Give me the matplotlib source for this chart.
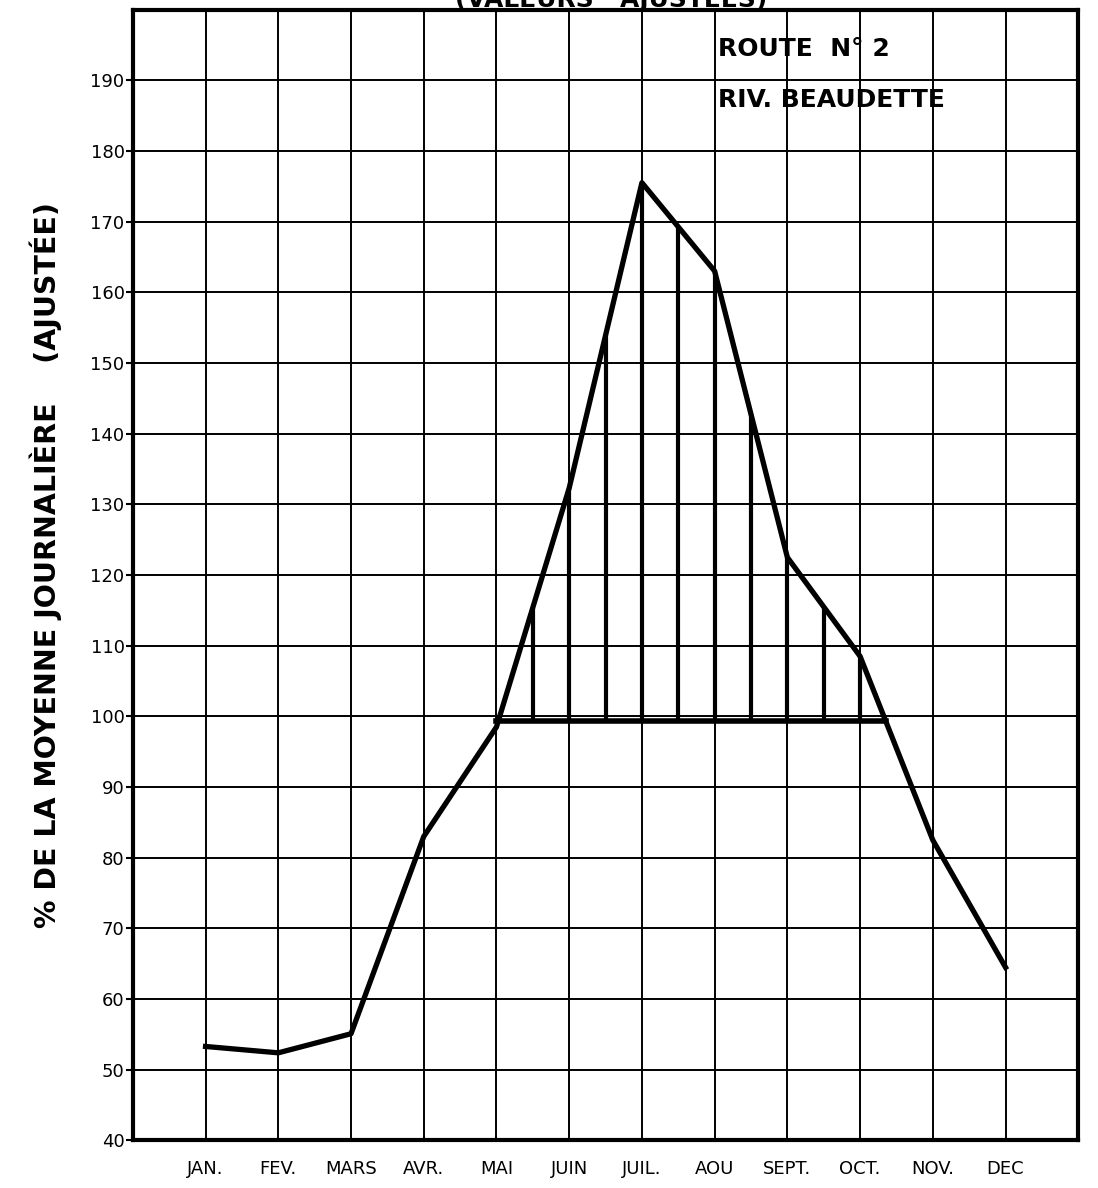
import numpy as np
import matplotlib
matplotlib.use("Agg")
import matplotlib.pyplot as plt

# month labels and adjusted values (% of daily mean)
months = ["JAN.", "FEV.", "MARS", "AVR.", "MAI", "JUIN", "JUIL.", "AOU",
          "SEPT.", "OCT.", "NOV.", "DEC"]
values = [53.3, 52.4, 55.1, 83.0, 98.5, 132.3, 175.5, 163.0,
          122.5, 108.5, 82.5, 64.5]
y_ticks = [40, 50, 60, 70, 80, 90, 100, 110, 120, 130, 140, 150, 160, 170, 180, 190]

# level of the horizontal base line of the shaded area
base_level = 99.3
# half-month positions where hatch lines are drawn
hatch_pos = [5.5, 6, 6.5, 7, 7.5, 8, 8.5, 9, 9.5, 10]

x = np.arange(1, len(months) + 1)

fig = plt.figure(figsize=(10.98, 11.88), dpi=100)
ax = fig.add_axes([0.121, 0.040, 0.861, 0.952])

ax.set_xlim(0, 13)
ax.set_ylim(40, 200)

# grid (months / every 10 %)
for xm in x:
    ax.axvline(xm, color="black", lw=1.4, zorder=1)
for yv in y_ticks[1:]:
    ax.axhline(yv, color="black", lw=1.4, zorder=1)

# main curve
ax.plot(x, values, color="black", lw=3.8, solid_joinstyle="round", zorder=3)

# base line from MAI to where the curve falls below it
i = 9  # between OCT and NOV
x_end = x[i] + (values[i] - base_level) / (values[i] - values[i + 1])
ax.plot([5, x_end], [base_level, base_level], color="black", lw=4, zorder=3)

# hatching between base line and curve
tops = np.interp(hatch_pos, x, values)
ax.vlines(hatch_pos, base_level, tops, color="black", lw=3, zorder=3)

ax.set_xticks(x)
ax.set_xticklabels(months, fontsize=13)
ax.tick_params(axis="x", length=0, pad=14)
ax.set_yticks(y_ticks)
ax.set_yticklabels([str(v) for v in y_ticks], fontsize=13)
ax.tick_params(axis="y", length=5, width=1.5, pad=1, direction="out")

for sp in ax.spines.values():
    sp.set_linewidth(3)

ax.text(0.619, 0.965, "ROUTE  N° 2", transform=ax.transAxes, fontsize=18,
        fontweight="bold", ha="left", va="center")
ax.text(0.619, 0.920, "RIV. BEAUDETTE", transform=ax.transAxes, fontsize=18,
        fontweight="bold", ha="left", va="center")

# title only partly visible at the top edge, as on the original sheet
fig.text(0.557, 0.994, "(VALEURS   AJUSTEES)", fontsize=18, fontweight="bold",
         ha="center", va="baseline")

fig.text(0.042, 0.524, "% DE LA MOYENNE JOURNALIÈRE    (AJUSTÉE)", rotation=90,
         fontsize=20.5, fontweight="bold", ha="center", va="center")

fig.savefig("out.png", dpi=100)
